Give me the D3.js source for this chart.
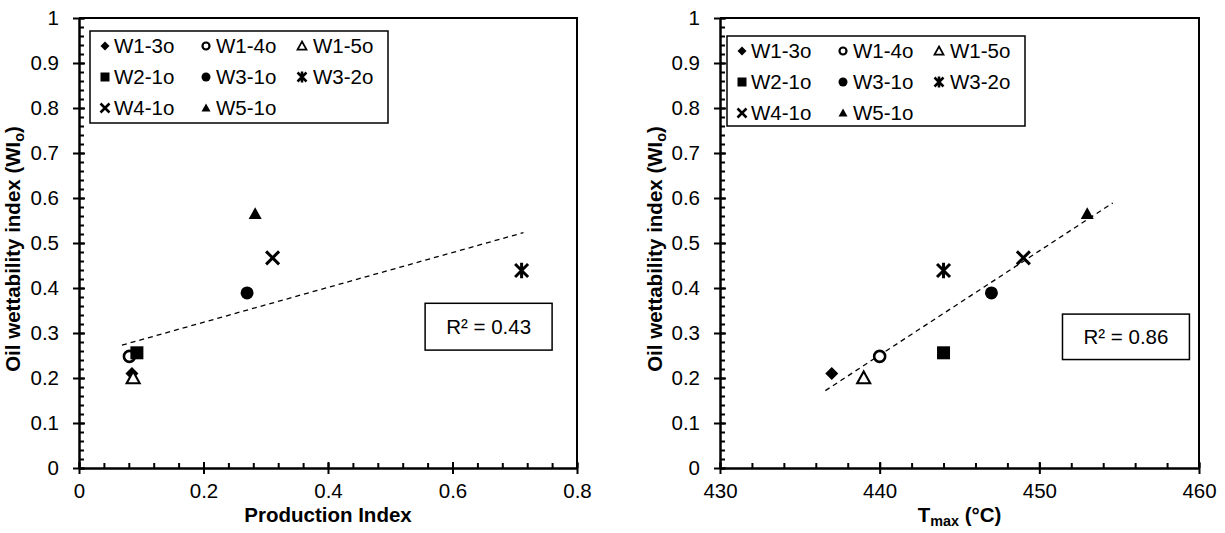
<!DOCTYPE html>
<html><head><meta charset="utf-8">
<script src="https://cdn.jsdelivr.net/npm/d3@7"></script>
<style>
html,body{margin:0;padding:0;background:#fff;}
svg text{font-family:"Liberation Sans",Arial,sans-serif;fill:#000;}
</style></head>
<body>
<svg id="c" width="1225" height="533"></svg>
<script>
// ---------- data ----------
const samples = ["W1-3o","W1-4o","W1-5o","W2-1o","W3-1o","W3-2o","W4-1o","W5-1o"];
const markers = ["diamond","circleOpen","triangleOpen","square","circle","star","cross","triangle"];
const productionIndex = [0.085,0.081,0.087,0.093,0.270,0.711,0.311,0.283];
const tmax = [437,440,439,444,447,444,449,453];
const wettability = [0.210,0.248,0.200,0.256,0.389,0.439,0.467,0.565];
// trend lines (endpoints)
const trendPI = [0.069,0.714], trendPIWI = [0.273,0.523];
const trendT = [436.6,454.6], trendTWI = [0.172,0.589];
const r2Left = "R² = 0.43", r2Right = "R² = 0.86";
const yTicks = [0,0.1,0.2,0.3,0.4,0.5,0.6,0.7,0.8,0.9,1];
const xTicksPI = [0,0.2,0.4,0.6,0.8];
const xTicksT = [430,440,450,460];

const svg = d3.select("#c");
const FS = 20.5;

function markerPath(type, s){
  const h = s/2;
  switch(type){
    case "diamond": return `M0,${-h}L${h},0L0,${h}L${-h},0Z`;
    case "square": return `M${-h},${-h}H${h}V${h}H${-h}Z`;
    case "triangle": case "triangleOpen":
      return `M0,${-h}L${h},${h*0.8}L${-h},${h*0.8}Z`;
    case "cross": return `M${-h},${-h}L${h},${h}M${-h},${h}L${h},${-h}`;
    case "star": return `M${-h},${-h}L${h},${h}M${-h},${h}L${h},${-h}M0,${-h*1.2}V${h*1.2}`;
    default: return null;
  }
}
function drawMarker(g, type, x, y, s, sw){
  if(type==="circle"||type==="circleOpen"){
    g.append("circle").attr("cx",x).attr("cy",y).attr("r",type==="circle"?s/2:s/2-1)
      .attr("fill",type==="circle"?"#000":"#fff").attr("stroke","#000")
      .attr("stroke-width",type==="circle"?0:sw);
    return;
  }
  const p = g.append("path").attr("d",markerPath(type,s)).attr("transform",`translate(${x},${y})`);
  if(type==="cross"||type==="star"){
    p.attr("fill","none").attr("stroke","#000").attr("stroke-width",sw*1.15);
  } else if(type==="triangleOpen"){
    p.attr("fill","#fff").attr("stroke","#000").attr("stroke-width",sw*0.8).attr("stroke-linejoin","miter");
  } else {
    p.attr("fill","#000");
  }
}

function panel(opts){
  const {x, y, xTicks, xMinor, xFmt, xVals, tX, tY, r2, r2Box, legend, yTitleX, xTitle} = opts;
  const g = svg.append("g");
  const [x0,x1] = x.range(), [y0,y1] = y.range();
  g.append("path").attr("d",`M${x0},${y1}H${x1}V${y0}`).attr("fill","none").attr("stroke","#000").attr("stroke-width",2);

  g.append("g").attr("transform",`translate(0,${y0})`)
    .call(d3.axisBottom(x).tickValues(xMinor).tickSize(-5).tickFormat(""))
    .call(a=>a.select(".domain").remove()).selectAll("line").attr("stroke-width",2);
  g.append("g").attr("transform",`translate(0,${y0})`)
    .call(d3.axisBottom(x).tickValues(xTicks).tickSize(-6).tickFormat(""))
    .call(a=>a.select(".domain").remove()).selectAll("line").attr("stroke-width",2);
  const xa = g.append("g").attr("transform",`translate(0,${y0})`)
    .call(d3.axisBottom(x).tickValues(xTicks).tickSize(6).tickSizeOuter(0).tickPadding(9).tickFormat(xFmt));
  xa.select(".domain").attr("stroke-width",2.5);
  xa.selectAll("line").attr("stroke-width",2);
  xa.selectAll("text").attr("font-size",FS).attr("font-family","Liberation Sans, Arial, sans-serif").attr("fill","#000");

  const yMinor = d3.range(0,1.0001,0.02).map(v=>+v.toFixed(2));
  g.append("g").attr("transform",`translate(${x0},0)`)
    .call(d3.axisLeft(y).tickValues(yMinor).tickSize(-5).tickFormat(""))
    .call(a=>a.select(".domain").remove()).selectAll("line").attr("stroke-width",2);
  g.append("g").attr("transform",`translate(${x0},0)`)
    .call(d3.axisLeft(y).tickValues(yTicks).tickSize(-6).tickFormat(""))
    .call(a=>a.select(".domain").remove()).selectAll("line").attr("stroke-width",2);
  const ya = g.append("g").attr("transform",`translate(${x0},0)`)
    .call(d3.axisLeft(y).tickValues(yTicks).tickSize(6).tickSizeOuter(0).tickPadding(14).tickFormat(d3.format("")));
  ya.select(".domain").attr("stroke-width",2.5);
  ya.selectAll("line").attr("stroke-width",2);
  ya.selectAll("text").attr("font-size",FS).attr("font-family","Liberation Sans, Arial, sans-serif").attr("fill","#000");

  const yt = g.append("text").attr("transform",`translate(${yTitleX},${(y0+y1)/2+6}) rotate(-90)`)
    .attr("text-anchor","middle").attr("font-weight","bold").attr("font-size",FS);
  yt.append("tspan").text("Oil wettability index (WI");
  yt.append("tspan").text("o").attr("font-size",FS*0.7).attr("dy",4);
  yt.append("tspan").text(")").attr("dy",-4);

  xTitle(g, (x0+x1)/2, 522);

  g.append("line").attr("x1",x(tX[0])).attr("y1",y(tY[0])).attr("x2",x(tX[1])).attr("y2",y(tY[1]))
    .attr("stroke","#000").attr("stroke-width",1.3).attr("stroke-dasharray","5,4");

  const pts = g.append("g");
  samples.forEach((s,i)=>drawMarker(pts, markers[i], x(xVals[i]), y(wettability[i]), 13, 2.6));

  const bx = x(r2Box[0]), by = y(r2Box[1]), bw = x(r2Box[2])-x(r2Box[0]), bh = y(r2Box[3])-y(r2Box[1]);
  g.append("rect").attr("x",bx).attr("y",by).attr("width",bw).attr("height",bh)
    .attr("fill","#fff").attr("stroke","#000").attr("stroke-width",1.5);
  g.append("text").attr("x",bx+bw/2).attr("y",by+bh/2+7).attr("text-anchor","middle").attr("font-size",FS).text(r2);

  const L = legend;
  g.append("rect").attr("x",L.x).attr("y",L.y).attr("width",L.w).attr("height",L.h)
    .attr("fill","#fff").attr("stroke","#000").attr("stroke-width",1.5);
  const colM = [15,116,212], colT = [24,126,223];
  samples.forEach((s,i)=>{
    const r = Math.floor(i/3), c = i%3;
    const cy = L.y + 15 + r*31;
    drawMarker(g, markers[i], L.x+colM[c], cy, 9, 2.2);
    g.append("text").attr("x",L.x+colT[c]).attr("y",cy+7).attr("font-size",FS).text(s);
  });
}

const y = d3.scaleLinear([0,1],[468,18]);
const xL = d3.scaleLinear([0,0.8],[79,577]);
const xR = d3.scaleLinear([430,460],[720,1199]);

panel({x:xL, y, xTicks:xTicksPI, xMinor:d3.range(0,0.8001,0.04).map(v=>+v.toFixed(2)),
  xFmt:d3.format(""), xVals:productionIndex, tX:trendPI, tY:trendPIWI, r2:r2Left,
  r2Box:[0.556,0.366,0.760,0.262], legend:{x:90,y:31,w:298,h:92}, yTitleX:20,
  xTitle:(g,cx,cy)=>g.append("text").attr("x",cx).attr("y",cy).attr("text-anchor","middle")
    .attr("font-weight","bold").attr("font-size",FS).text("Production Index")});

panel({x:xR, y, xTicks:xTicksT, xMinor:d3.range(430,460.01,2),
  xFmt:d3.format("d"), xVals:tmax, tX:trendT, tY:trendTWI, r2:r2Right,
  r2Box:[451.45,0.342,459.4,0.241], legend:{x:727,y:36,w:298,h:90}, yTitleX:662,
  xTitle:(g,cx,cy)=>{const t=g.append("text").attr("x",cx).attr("y",cy).attr("text-anchor","middle")
    .attr("font-weight","bold").attr("font-size",FS);
    t.append("tspan").text("T");
    t.append("tspan").text("max").attr("font-size",FS*0.7).attr("dy",4);
    t.append("tspan").text(" (°C)").attr("dy",-4);}});
</script>
</body></html>
